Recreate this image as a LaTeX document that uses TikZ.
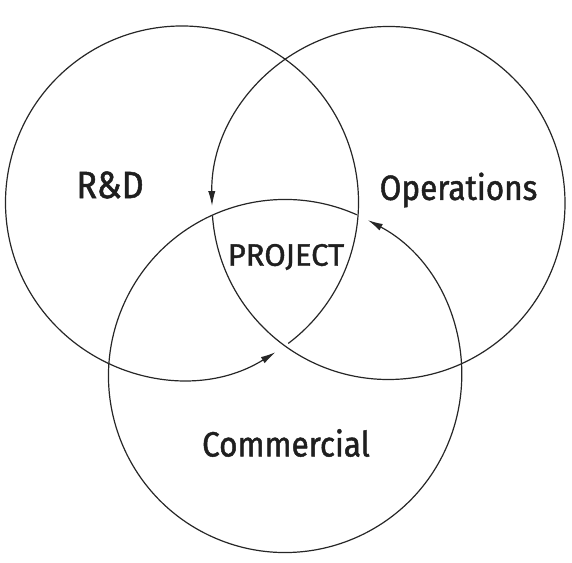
\documentclass[tikz,border=0pt]{standalone}
\usepackage{fontspec}
\setmainfont{Fira Sans}
\newfontfamily\labelfont{Fira Sans}[FakeStretch=0.9,FakeBold=1.3]
\newfontfamily\projfont{Fira Sans}[FakeBold=1.3]
\usetikzlibrary{arrows.meta}

\begin{document}
\begin{tikzpicture}[x=0.5pt,y=0.5pt,>={Latex[length=7.5pt,width=3.6pt]},
                ring/.style={->,line width=0.6pt,draw=black!85},
                big/.style={text=black!88,font=\labelfont\fontsize{17.5}{20}\selectfont},
                small/.style={text=black!88,font=\projfont\fontsize{15.5}{18}\selectfont}]
                \useasboundingbox (0,0) rectangle (572,562);
                \coordinate (rd) at (182,359.5);
                \coordinate (ops) at (388.5,359);
                \coordinate (com) at (285,186);
                % the three rings, each with a small gap and an arrow
                \draw[ring] (rd) ++(-53:176.5) arc[start angle=-53,end angle=302,radius=176.5];
                \draw[ring] (ops) ++(184:176.5) arc[start angle=184,end angle=541,radius=176.5];
                \draw[ring] (com) ++(66:176.5) arc[start angle=66,end angle=422,radius=176.5];
                \node[big,font=\labelfont\fontsize{19}{22}\selectfont] (rdl) at (110,377) {R\&D};
                \node[big] (opsl) at (458.5,372) {Operations};
                \node[big] (coml) at (286,119) {Commercial};
                \node[small] (proj) at (286,305) {PROJECT};
            \end{tikzpicture}
\end{document}
